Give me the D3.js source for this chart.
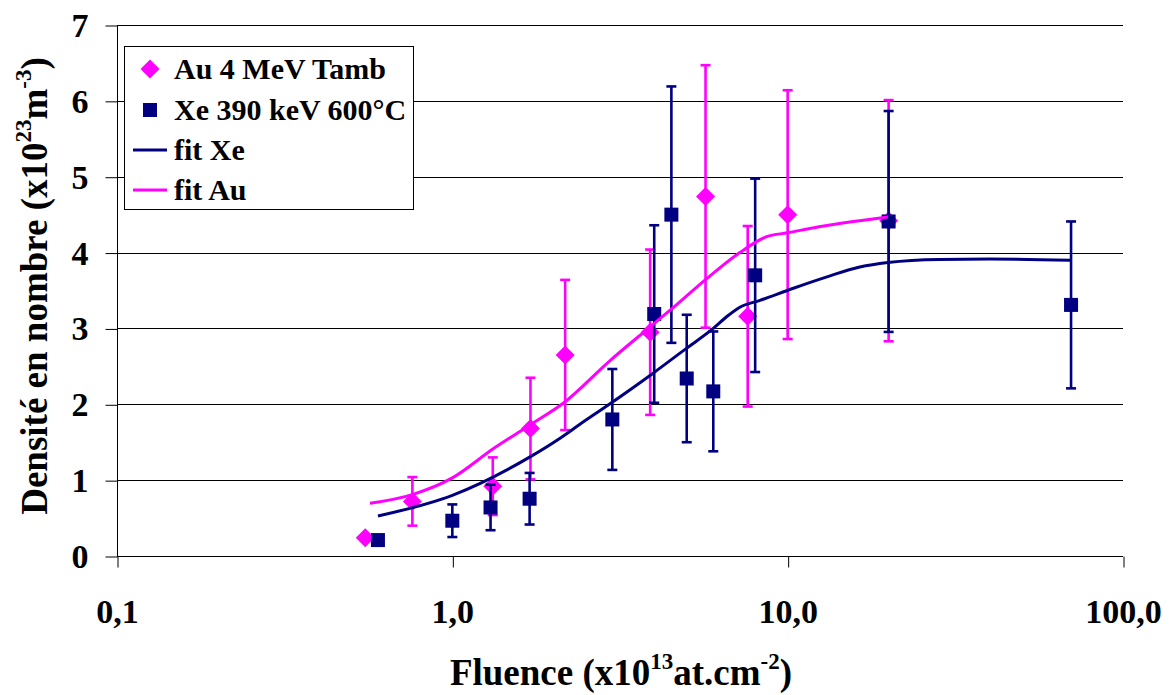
<!DOCTYPE html>
<html><head><meta charset="utf-8">
<script src="https://cdn.jsdelivr.net/npm/d3@7"></script>
<style>
body{margin:0;background:#fff}
text{font-family:"Liberation Serif","Times New Roman",serif;font-weight:bold;fill:#000}
</style>
</head><body><svg id="c" width="1172" height="695"></svg>
<script>
// ---- data ----
const auFluence = [0.55, 0.76, 1.32, 1.71, 2.17, 3.89, 5.69, 7.6, 10, 20];
const auDensity = [0.24, 0.72, 0.92, 1.68, 2.65, 2.95, 4.74, 3.16, 4.50, 4.42];
const auError   = [0, 0.32, 0.38, 0.67, 0.99, 1.09, 1.73, 1.19, 1.64, 1.59];

const xeFluence = [0.6, 1.0, 1.3, 1.7, 3.0, 4.0, 4.5, 5.0, 6.0, 8.0, 20, 70];
const xeDensity = [0.21, 0.465, 0.64, 0.755, 1.80, 3.19, 4.50, 2.34, 2.17, 3.70, 4.41, 3.31];
const xeError   = [0, 0.215, 0.30, 0.34, 0.665, 1.17, 1.69, 0.84, 0.79, 1.275, 1.456, 1.10];

const fitXeFluence = [0.6, 1.0, 1.71, 2.09, 2.39, 2.96, 3.97, 5.0, 6.0, 6.6, 7.2, 8.27, 10.4, 13.1, 16.4, 19.9, 28.3, 40, 69.6];
const fitXeDensity = [0.527, 0.80, 1.31, 1.55, 1.73, 2.01, 2.41, 2.74, 3.0, 3.16, 3.28, 3.37, 3.53, 3.68, 3.81, 3.87, 3.91, 3.915, 3.90];

const fitAuFluence = [0.568, 0.76, 1.0, 1.33, 1.71, 2.15, 2.96, 3.89, 4.46, 5.75, 7.2, 8.66, 9.98, 12.4, 16.4, 19.9];
const fitAuDensity = [0.695, 0.81, 1.03, 1.42, 1.73, 2.02, 2.58, 3.02, 3.24, 3.66, 4.0, 4.21, 4.26, 4.34, 4.42, 4.47];

const xTicks = [0.1, 1, 10, 100];
const xTickLabels = ["0,1", "1,0", "10,0", "100,0"];
const yTicks = [0, 1, 2, 3, 4, 5, 6, 7];

const legendLabels = ["Au 4 MeV Tamb", "Xe 390 keV 600°C", "fit Xe", "fit Au"];

const AU = "#FF00FF", XE = "#000080";

// ---- layout ----
const svg = d3.select("#c");
const L = 117, R = 1123, T = 25, B = 556;
const x = d3.scaleLog().domain([0.1, 100]).range([L, R]);
const y = d3.scaleLinear().domain([0, 7]).range([B, T]);

// gridlines
svg.append("g").selectAll("line").data(yTicks.filter(d => d > 0)).join("line")
  .attr("x1", L).attr("x2", R)
  .attr("y1", d => Math.round(y(d)) + 0.5).attr("y2", d => Math.round(y(d)) + 0.5)
  .attr("stroke", "#000").attr("stroke-width", 1);

// y axis
const yAxis = svg.append("g").attr("transform", `translate(${L + 0.5},0)`)
  .call(d3.axisLeft(y).tickValues(yTicks).tickSize(12).tickFormat(d3.format("d")));
yAxis.select(".domain").attr("stroke", "#000").attr("d", `M0,${T}V${B}`);
yAxis.selectAll(".tick line").attr("stroke", "#000")
  .attr("transform", "translate(0,0.5)");
yAxis.selectAll(".tick text").attr("x", -29).attr("dy", "0.34em")
  .style("font-size", "34px").attr("fill", "#000");

// x axis
const xAxis = svg.append("g").attr("transform", `translate(0,${B + 0.5})`)
  .call(d3.axisBottom(x).tickValues(xTicks).tickSize(11)
    .tickFormat((d, i) => xTickLabels[i]));
xAxis.select(".domain").attr("stroke", "#000").attr("d", `M${L},0H${R}`);
xAxis.selectAll(".tick line").attr("stroke", "#000").attr("transform", "translate(0.5,0)");
xAxis.selectAll(".tick text").attr("y", 66).attr("dy", 0)
  .style("font-size", "34px").attr("fill", "#000");

// axis titles
const xt = svg.append("text").attr("x", 621).attr("y", 685).attr("text-anchor", "middle")
  .style("font-size", "37px");
xt.append("tspan").text("Fluence (x10");
xt.append("tspan").attr("dy", -16).style("font-size", "23px").text("13");
xt.append("tspan").attr("dy", 16).text("at.cm");
xt.append("tspan").attr("dy", -16).style("font-size", "23px").text("-2");
xt.append("tspan").attr("dy", 16).text(")");

const yt = svg.append("text").attr("transform", "translate(47,286) rotate(-90)")
  .attr("text-anchor", "middle").style("font-size", "37px");
yt.append("tspan").text("Densité en nombre (x10");
yt.append("tspan").attr("dy", -16).style("font-size", "23px").text("23");
yt.append("tspan").attr("dy", 16).text("m");
yt.append("tspan").attr("dy", -16).style("font-size", "23px").text("-3");
yt.append("tspan").attr("dy", 16).text(")");

// ---- series helpers ----
function errorBars(fl, dv, er, color) {
  const g = svg.append("g").attr("stroke", color).attr("stroke-width", 2.6);
  fl.forEach((f, i) => {
    if (!er[i]) return;
    const cx = x(f), y1 = y(dv[i] + er[i]), y2 = y(dv[i] - er[i]);
    g.append("line").attr("x1", cx).attr("x2", cx).attr("y1", y1).attr("y2", y2);
    g.append("line").attr("x1", cx - 5).attr("x2", cx + 5).attr("y1", y1).attr("y2", y1);
    g.append("line").attr("x1", cx - 5).attr("x2", cx + 5).attr("y1", y2).attr("y2", y2);
  });
}
const diamond = (cx, cy, r) => `M${cx},${cy - r}L${cx + r},${cy}L${cx},${cy + r}L${cx - r},${cy}Z`;

// Au series
errorBars(auFluence, auDensity, auError, AU);
svg.append("g").selectAll("path").data(auFluence).join("path")
  .attr("d", (d, i) => diamond(x(d), y(auDensity[i]), 9.5)).attr("fill", AU);

// Xe series
errorBars(xeFluence, xeDensity, xeError, XE);
svg.append("g").selectAll("rect").data(xeFluence).join("rect")
  .attr("x", d => x(d) - 7).attr("y", (d, i) => y(xeDensity[i]) - 7)
  .attr("width", 14).attr("height", 14).attr("fill", XE);

// fits
const line = d3.line().x(d => x(d[0])).y(d => y(d[1])).curve(d3.curveMonotoneX);
svg.append("path").datum(fitXeFluence.map((f, i) => [f, fitXeDensity[i]]))
  .attr("d", line).attr("fill", "none").attr("stroke", XE).attr("stroke-width", 3);
svg.append("path").datum(fitAuFluence.map((f, i) => [f, fitAuDensity[i]]))
  .attr("d", line).attr("fill", "none").attr("stroke", AU).attr("stroke-width", 3);

// ---- legend ----
const lg = svg.append("g");
lg.append("rect").attr("x", 124.5).attr("y", 46.5).attr("width", 289).attr("height", 163)
  .attr("fill", "#fff").attr("stroke", "#000").attr("stroke-width", 1);
const rowY = [69, 110, 150, 190];
lg.append("path").attr("d", diamond(150, rowY[0], 9.5)).attr("fill", AU);
lg.append("rect").attr("x", 143).attr("y", rowY[1] - 7).attr("width", 14).attr("height", 14).attr("fill", XE);
lg.append("line").attr("x1", 133).attr("x2", 167).attr("y1", rowY[2]).attr("y2", rowY[2])
  .attr("stroke", XE).attr("stroke-width", 3);
lg.append("line").attr("x1", 133).attr("x2", 167).attr("y1", rowY[3]).attr("y2", rowY[3])
  .attr("stroke", AU).attr("stroke-width", 3);
lg.selectAll("text.lab").data(legendLabels).join("text").attr("class", "lab")
  .attr("x", 174).attr("y", (d, i) => rowY[i] + 10).style("font-size", "30px").text(d => d);
</script>
</body></html>
